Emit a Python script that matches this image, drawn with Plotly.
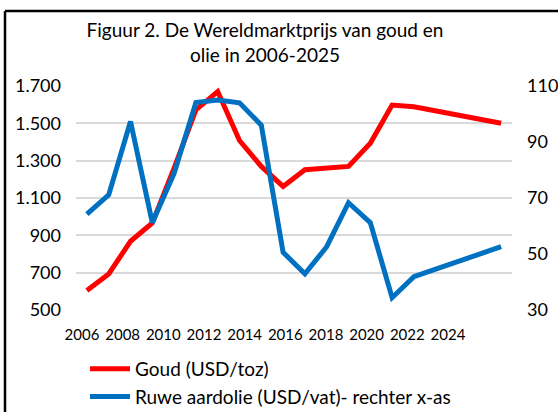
import plotly.graph_objects as go

years = list(range(2006, 2026))
goud = [605, 693, 868, 966, 1260, 1572, 1670, 1408, 1269, 1162, 1251, 1258, 1269, 1393,
        1598, 1589, 1566, 1545, 1522, 1500]
olie = [64.2, 71.1, 97.3, 61.2, 78.8, 104.1, 105.0, 104.0, 96.0, 50.6, 42.9, 52.6, 68.3,
        61.2, 34.4, 41.9, 44.6, 47.3, 50.0, 52.6]
x_labels = list(range(2006, 2025, 2))
left_ticks = [500, 700, 900, 1100, 1300, 1500, 1700]
right_ticks = [30, 50, 70, 90, 110]

FONT = "Lato"
W, H = 558, 412
L, R, T, B = 76, 46, 86, 102
pw, ph = W - L - R, H - T - B

fig = go.Figure()
fig.add_trace(go.Scatter(x=years, y=goud, name="Goud (USD/toz)", mode="lines",
                         line=dict(color="#FF0000", width=5)))
fig.add_trace(go.Scatter(x=years, y=olie, name="Ruwe aardolie (USD/vat)- rechter x-as",
                         mode="lines", yaxis="y2",
                         line=dict(color="#0070C0", width=5)))
# invisible carrier for the label axis
fig.add_trace(go.Scatter(x=[x_labels[0]], y=[left_ticks[0]], xaxis="x2", mode="markers",
                         marker=dict(opacity=0), showlegend=False, hoverinfo="skip"))

def px2px(xp):
    return (xp - L) / pw

def py2py(yp):
    return (H - B - yp) / ph

fig.update_layout(
    width=W, height=H,
    margin=dict(l=L, r=R, t=T, b=B, pad=0, autoexpand=False),
    paper_bgcolor="white", plot_bgcolor="white",
    separators=",.",
    font=dict(family=FONT, size=16, color="#000000"),
    title=dict(text="Figuur 2. De Wereldmarktprijs van goud en<br>olie in 2006-2025",
               x=265 / W, xref="container", xanchor="center",
               y=1 - 37 / H, yref="container", yanchor="top",
               font=dict(family=FONT, size=19, color="#000000")),
    xaxis=dict(range=[2005.5, 2025.5], showgrid=False, showticklabels=False,
               showline=False, zeroline=False, ticks="", automargin=False),
    xaxis2=dict(range=[2005.705, 2027.15], overlaying="x", anchor="y", side="bottom",
                tickvals=x_labels, showgrid=False, showline=False, zeroline=False,
                ticks="", ticklabelstandoff=14, tickfont=dict(size=15, family=FONT),
                automargin=False),
    yaxis=dict(range=[500, 1700], tickvals=left_ticks, separatethousands=True,
               tickformat=",d", showgrid=True, gridcolor="#D9D9D9", gridwidth=1.5,
               zeroline=False, showline=False, ticks="", ticklabelstandoff=14,
               tickfont=dict(size=18, family=FONT), automargin=False),
    yaxis2=dict(range=[30, 110], tickvals=right_ticks, overlaying="y", side="right",
                showgrid=False, zeroline=False, showline=False, ticks="",
                ticklabelstandoff=14, tickfont=dict(size=18, family=FONT),
                automargin=False),
    legend=dict(orientation="v", x=px2px(85), y=py2py(350), xanchor="left", yanchor="top",
                font=dict(family=FONT, size=19), bgcolor="rgba(0,0,0,0)",
                itemwidth=40, tracegroupgap=0),
    showlegend=True,
)

# outer chart frame (left and top edges visible)
fig.add_shape(type="line", xref="paper", yref="paper",
              x0=px2px(5), x1=px2px(5), y0=py2py(H + 5), y1=py2py(11),
              line=dict(color="black", width=2.5))
fig.add_shape(type="line", xref="paper", yref="paper",
              x0=px2px(5), x1=px2px(W + 5), y0=py2py(11), y1=py2py(11),
              line=dict(color="black", width=2.5))

fig.write_html("out.html", config={"displayModeBar": False},
               post_script="document.body.style.margin='0';document.body.style.overflow='hidden';")
